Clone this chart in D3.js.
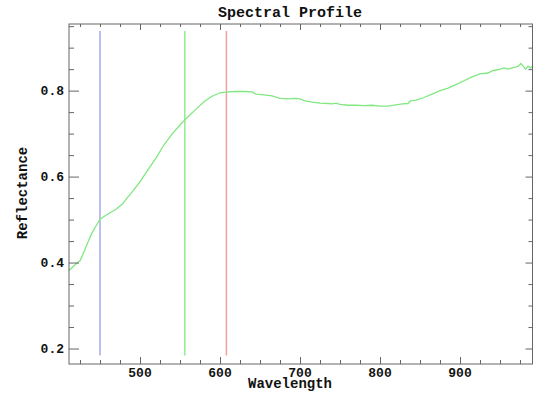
<!DOCTYPE html>
<html><head><meta charset="utf-8">
<script src="https://cdn.jsdelivr.net/npm/d3@7/dist/d3.min.js"></script>
<style>
html,body{margin:0;padding:0;background:#fff;}
svg text{font-family:"Liberation Mono","DejaVu Sans Mono",monospace;font-weight:bold;fill:#111;}
</style></head>
<body><svg id="c" width="542" height="394"></svg>
<script>
const title = "Spectral Profile";
const xLabel = "Wavelength";
const yLabel = "Reflectance";
const xTicks = [500, 600, 700, 800, 900];
const yTicks = [0.2, 0.4, 0.6, 0.8];
const wavelength = [411,415,420,425,430,435,440,445,450,460,470,478,485,490,500,510,520,530,540,550,556,560,570,580,590,600,610,620,630,640,645,655,665,675,685,695,700,705,715,725,735,740,745,750,760,770,780,790,800,810,820,828,835,838,845,855,865,875,885,895,905,915,925,935,940,945,950,955,960,965,970,973,976,979,982,985,988,991];
const reflectance = [0.381,0.388,0.397,0.404,0.425,0.448,0.469,0.485,0.501,0.513,0.524,0.536,0.553,0.564,0.588,0.616,0.643,0.674,0.699,0.720,0.732,0.739,0.757,0.774,0.787,0.795,0.797,0.798,0.798,0.797,0.792,0.790,0.788,0.782,0.781,0.782,0.781,0.777,0.773,0.771,0.770,0.769,0.771,0.768,0.766,0.766,0.765,0.766,0.764,0.764,0.767,0.769,0.770,0.776,0.778,0.784,0.792,0.800,0.806,0.814,0.823,0.832,0.839,0.841,0.846,0.848,0.850,0.853,0.850,0.853,0.855,0.857,0.863,0.857,0.850,0.857,0.853,0.857];
const bandLines = [
  {w: 450, color: "#a8a8f0"},
  {w: 556, color: "#90ee90"},
  {w: 608, color: "#f0a0a0"}
];
const bandRange = [0.184, 0.939];

(function(){
const svg = d3.select("#c");
const L = 69, R = 532.5, T = 24, B = 364;
const x = d3.scaleLinear().domain([411.25, 990.6]).range([L, R]);
const y = d3.scaleLinear().domain([0.164, 0.955]).range([B, T]);
const frame = "#666";

svg.selectAll("line.band").data(bandLines).enter().append("line")
  .attr("x1", d => x(d.w)).attr("x2", d => x(d.w))
  .attr("y1", y(bandRange[0])).attr("y2", y(bandRange[1]))
  .attr("stroke", d => d.color).attr("stroke-width", 1.5);

const data = wavelength.map((w, i) => [w, reflectance[i]]);
svg.append("path").datum(data)
  .attr("fill", "none").attr("stroke", "#80e880").attr("stroke-width", 1.3)
  .attr("d", d3.line().x(d => x(d[0])).y(d => y(d[1])));

svg.append("rect").attr("x", L).attr("y", T).attr("width", R - L).attr("height", B - T)
  .attr("fill", "none").attr("stroke", frame).attr("stroke-width", 1);

const xMinor = d3.range(425, 991, 25);
const yMinor = d3.range(0.2, 0.951, 0.05);
const isMajorX = v => xTicks.includes(v);
const isMajorY = v => yTicks.some(t => Math.abs(t - v) < 1e-6);

const axB = d3.axisBottom(x).tickValues(xMinor).tickFormat("").tickSizeOuter(0);
const gB = svg.append("g").attr("transform", `translate(0,${B})`).call(axB);
gB.select(".domain").remove();
gB.selectAll(".tick line").attr("stroke", frame).attr("y2", d => isMajorX(d) ? -7 : -4);

const axT = d3.axisTop(x).tickValues(xMinor).tickFormat("").tickSizeOuter(0);
const gT = svg.append("g").attr("transform", `translate(0,${T})`).call(axT);
gT.select(".domain").remove();
gT.selectAll(".tick line").attr("stroke", frame).attr("y2", d => isMajorX(d) ? 6 : 3);

const axL = d3.axisLeft(y).tickValues(yMinor).tickFormat("").tickSizeOuter(0);
const gL = svg.append("g").attr("transform", `translate(${L},0)`).call(axL);
gL.select(".domain").remove();
gL.selectAll(".tick line").attr("stroke", frame).attr("x2", d => isMajorY(d) ? 10 : 5);

const axR = d3.axisRight(y).tickValues(yMinor).tickFormat("").tickSizeOuter(0);
const gR = svg.append("g").attr("transform", `translate(${R},0)`).call(axR);
gR.select(".domain").remove();
gR.selectAll(".tick line").attr("stroke", frame).attr("x2", d => isMajorY(d) ? -7 : -4);

svg.selectAll("text.xt").data(xTicks).enter().append("text")
  .attr("x", d => x(d)).attr("y", 377).attr("text-anchor", "middle")
  .attr("font-size", 13).text(d => d);
svg.selectAll("text.yt").data(yTicks).enter().append("text")
  .attr("x", 64).attr("y", d => y(d)).attr("dy", "0.35em").attr("text-anchor", "end")
  .attr("font-size", 13).text(d => d3.format(".1f")(d));

svg.append("text").attr("x", 290).attr("y", 17).attr("text-anchor", "middle")
  .attr("font-size", 15).text(title);
svg.append("text").attr("x", 290).attr("y", 388).attr("text-anchor", "middle")
  .attr("font-size", 14).text(xLabel);
svg.append("text").attr("transform", "translate(27,193) rotate(-90)")
  .attr("text-anchor", "middle").attr("font-size", 14).text(yLabel);
})();
</script></body></html>
